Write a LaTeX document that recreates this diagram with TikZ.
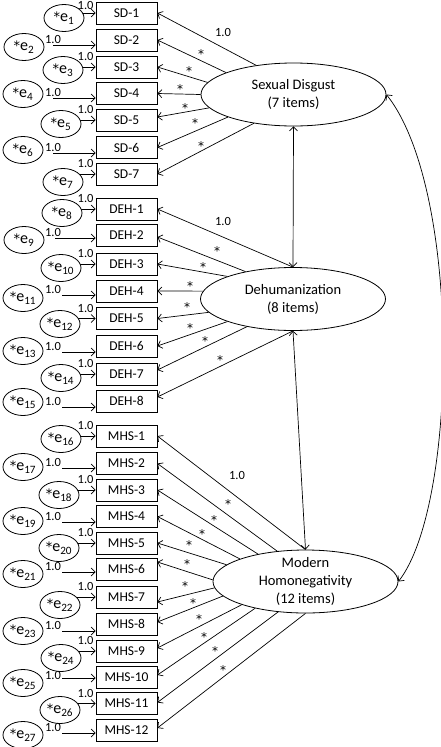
\documentclass[tikz,border=0pt]{standalone}
\usepackage{fontspec}
\setmainfont{Carlito}
\newfontfamily\astfont{DejaVu Sans}
\usetikzlibrary{shapes.geometric,arrows.meta,backgrounds}
\newcommand{\bigast}{{\astfont\fontsize{13}{14}\selectfont *}}
\begin{document}
\begin{tikzpicture}[x=1pt,y=-1pt,
  box/.style={draw,line width=0.8pt,minimum width=61pt,minimum height=22pt,inner sep=0pt,font=\fontsize{13.5}{16}\selectfont},
  err/.style={draw,ellipse,fill=white,line width=0.8pt,minimum width=40pt,minimum height=27pt,inner sep=0pt,font=\fontsize{16}{18}\selectfont},
  lat/.style={draw,ellipse,fill=white,line width=0.8pt,minimum width=185pt,minimum height=63pt,inner sep=0pt,align=center,font=\fontsize{14.5}{18}\selectfont},
  lattext/.style={inner sep=0pt,align=center,font=\fontsize{14.5}{18}\selectfont},
  arr/.style={line width=0.7pt,-{Straight Barb[length=4pt,width=8pt]}},
  dbl/.style={line width=0.7pt,{Straight Barb[length=4pt,width=8pt]}-{Straight Barb[length=4pt,width=8pt]}},
  lab/.style={inner sep=0pt,font=\fontsize{12.5}{14}\selectfont},
  ast/.style={inner sep=0pt,font=\astfont\fontsize{12}{14}\selectfont,anchor=base}
]
\useasboundingbox (0,0) rectangle (441,747);

% indicator boxes
\foreach \i/\y in {1/13,2/40,3/67,4/93.5,5/120,6/147.5,7/174}
  \node[box] (sd\i) at (126.5,\y) {SD-\i};
\foreach \i/\y in {1/209,2/235,3/264,4/291,5/318.5,6/346,7/374,8/401}
  \node[box] (deh\i) at (126.5,\y) {DEH-\i};
\foreach \i/\y in {1/436,2/463.5,3/490,4/516.5,5/543,6/569,7/597,8/624,9/651,10/677,11/703.5,12/730}
  \node[box] (mhs\i) at (126.5,\y) {MHS-\i};

% error terms
\foreach \n/\x/\y in {1/64/18,2/24/47,3/63/70,4/23/94,5/61/124,6/23/150,7/63/182,
  8/62/213,9/24/240,10/61/268,11/23/298,12/60/324,13/23/351,14/61/378,15/23/402,
  16/61/439,17/23/467,18/59/495,19/23/521,20/59/548,21/23/574,22/60/605,23/23/631,
  24/61/658,25/23/683,26/60/710,27/23/735}
  \node[err] (e\n) at (\x,\y) {\bigast e\textsubscript{\n}};

% error arrows (close column)
\begin{scope}[on background layer]
\foreach \n/\b in {1/sd1,3/sd3,5/sd5,7/sd7,8/deh1,10/deh3,12/deh5,14/deh7,16/mhs1,18/mhs3,20/mhs5,22/mhs7,24/mhs9,26/mhs11}
  \draw[arr] (e\n.center |- \b.west) -- (\b.west);
\end{scope}
\foreach \n/\b/\d in {1/sd1/8,3/sd3/10.5,5/sd5/10.5,7/sd7/10.5,8/deh1/10.5,10/deh3/10.5,12/deh5/10.5,14/deh7/10.5,16/mhs1/10.5,18/mhs3/10.5,20/mhs5/10.5,22/mhs7/10.5,24/mhs9/10.5,26/mhs11/10.5}
  \node[lab] (l\n) at ([shift={(-10pt,\d pt)}]\b.west) {1.0};

% error arrows (far column)
\foreach \n/\b/\ay/\sx/\ld in {2/sd2/45/53/6,4/sd4/98/53/6,6/sd6/153/53/6,9/deh2/238/55/6,11/deh4/295/62/6,13/deh6/352/62/6,15/deh8/407/62/6,17/mhs2/468/62/6,19/mhs4/522/62/6,21/mhs6/572/62/6,23/mhs8/631/62/6,25/mhs10/678/62/3,27/mhs12/733/62/6}{
  \coordinate (s\n) at (\sx,\ay);
  \draw[arr] (s\n) -- (s\n -| \b.west);
  \node[lab] (l\n) at (53,\ay-\ld) {1.0};
}

% latent variables
\node[lat] (sd) at (293.5,94.5) {Sexual Disgust\\(7 items)};
\node[lat] (deh) at (293,299) {Dehumanization\\(8 items)};
\node[lat] (mhs) at (305.5,581.5) {};
\node[lattext] (mhst) at (mhs.center) {Modern\\Homonegativity\\(12 items)};

% loadings
\foreach \a/\b/\s in {142/sd1/0,162/sd2/0,172/sd3/0,180/sd4/0,189/sd5/3,199/sd6/0,216/sd7/0}
  \draw[arr] (sd.\a) -- ([yshift=\s pt]\b.east);
\foreach \a/\b/\s in {90/deh1/0,150/deh2/-2,161/deh3/0,175/deh4/0,189/deh5/0,199/deh6/0,211/deh7/4,270/deh8/4}
  \draw[arr] (deh.\a) -- ([yshift=\s pt]\b.east);
\foreach \a/\b/\s in {90/mhs1/0,133/mhs2/0,150/mhs3/0,161/mhs4/0,168/mhs5/0,179/mhs6/7,184/mhs7/-5,190/mhs8/2,200/mhs9/3,208/mhs10/2,228/mhs11/1,270/mhs12/2}
  \draw[arr] (mhs.\a) -- ([yshift=\s pt]\b.east);

% loading labels
\node[lab] (lsd) at (223,32) {1.0};
\node[lab] (ldeh) at (223,221) {1.0};
\node[lab] (lmhs) at (237,475) {1.0};
\foreach \x/\y [count=\k] in {201/51,189/68,180/86,185/105,195/120,201/143,
  217/248,203/264,190/283,187/304,190/325,205/338,220/357,
  228/501,214/517,202/531,189/542,187/561,185/583,193/600,199/616,204/634,215/648,223/667}
  \node[ast] (st\k) at (\x,\y+7) {*};

% covariances
\draw[dbl] (sd.south) -- (deh.north);
\draw[dbl] (deh.south) -- (mhs.north);
\draw[dbl] (sd.east) .. controls (462,190) and (458,505) .. (mhs.east);
\end{tikzpicture}
\end{document}
